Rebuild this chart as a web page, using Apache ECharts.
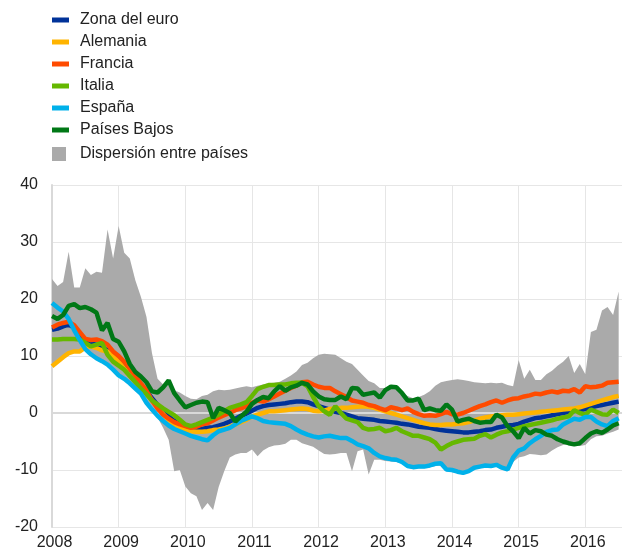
<!DOCTYPE html>
<html>
<head>
<meta charset="utf-8">
<script src="https://cdn.jsdelivr.net/npm/echarts@6/dist/echarts.min.js"></script>
<style>
    html, body {margin: 0; padding: 0; background: #fff;}
    #chart {width: 622px; height: 555px;}
</style>
</head>
<body>
<div id="chart"></div>
<script>
// monthly data, Jan 2008 - Jul 2016
const years = ['2008', '2009', '2010', '2011', '2012', '2013', '2014', '2015', '2016'];

const zonaEuro = [14.6, 14.8, 15.2, 15.5, 15.0, 13.8, 12.8, 12.2, 12.0, 11.5, 11.0, 10.0,
    9.0, 8.0, 7.2, 6.2, 5.0, 3.8, 2.6, 1.4, 0.3, -0.6, -1.4, -2.0,
    -2.4, -2.6, -2.8, -2.8, -2.6, -2.5, -2.2, -1.9, -1.5, -1.0, -0.5, -0.1,
    0.4, 0.9, 1.2, 1.4, 1.5, 1.6, 1.7, 1.9, 2.0, 2.0, 1.9, 1.5,
    1.2, 0.9, 0.6, 0.2, 0.0, -0.3, -0.6, -0.9, -1.0, -1.1, -1.2, -1.4,
    -1.5, -1.6, -1.7, -1.9, -2.0, -2.2, -2.4, -2.5, -2.6, -2.8, -3.0, -3.1,
    -3.2, -3.3, -3.4, -3.4, -3.3, -3.2, -3.0, -2.9, -2.6, -2.4, -2.2, -2.1,
    -1.9, -1.5, -1.2, -0.9, -0.8, -0.6, -0.4, -0.2, 0.0, 0.2, 0.3, 0.5,
    0.7, 1.0, 1.2, 1.4, 1.6, 1.8, 2.0];

const alemania = [8.2, 9.0, 9.8, 10.5, 10.8, 10.8, 11.5, 11.7, 11.4, 11.0, 10.8, 10.0,
    9.0, 7.8, 6.6, 5.6, 4.6, 3.4, 2.2, 1.0, -0.2, -1.2, -2.0, -2.6,
    -3.0, -3.2, -3.3, -3.3, -3.2, -3.0, -2.9, -2.7, -2.4, -2.0, -1.6, -1.2,
    -0.6, -0.3, 0.0, 0.3, 0.3, 0.4, 0.5, 0.6, 0.7, 0.8, 0.7, 0.4,
    0.3, 0.4, 0.7, 0.8, 0.9, 0.9, 1.0, 1.1, 1.2, 1.1, 0.9, 0.6,
    0.3, 0.0, -0.3, -0.6, -0.9, -1.2, -1.5, -1.8, -2.0, -2.1, -2.1, -2.0,
    -2.0, -1.9, -1.8, -1.6, -1.3, -1.0, -0.8, -0.6, -0.5, -0.4, -0.3, -0.3,
    -0.2, -0.1, 0.0, 0.1, 0.2, 0.3, 0.4, 0.5, 0.6, 0.7, 0.8, 1.0,
    1.3, 1.6, 1.9, 2.2, 2.5, 2.8, 3.0];

const francia = [15.0, 15.5, 15.8, 16.0, 15.4, 14.2, 13.0, 12.8, 12.9, 12.6, 12.0, 10.8,
    10.0, 9.0, 7.8, 6.5, 5.2, 4.0, 2.2, 0.8, -0.3, -1.0, -1.6, -2.0,
    -2.3, -2.6, -2.4, -2.0, -1.8, -1.3, -0.8, -0.4, 0.0, 0.5, 0.8, 1.2,
    1.8, 2.2, 2.0, 2.4, 2.9, 3.4, 3.9, 4.4, 4.8, 5.4, 5.5, 5.0,
    4.6, 4.4, 4.4, 3.8, 3.3, 2.8, 2.2, 2.0, 1.8, 1.4, 1.2, 0.8,
    0.5, 1.0, 0.8, 0.5, 0.8, 0.2, -0.2, -0.5, -0.4, -0.5, -0.2, 0.2,
    -0.2, -0.3, 0.0, 0.4, 0.8, 1.2, 1.5, 1.9, 2.2, 1.8, 2.2, 2.5,
    2.6, 2.9, 3.1, 3.4, 3.3, 3.6, 3.8, 3.6, 3.9, 3.8, 4.2, 3.6,
    4.7, 4.5, 4.6, 4.8, 5.3, 5.4, 5.5];

const italia = [12.9, 12.9, 13.0, 13.0, 13.0, 12.9, 12.3, 11.7, 12.0, 12.3, 10.2, 9.0,
    8.3, 7.6, 6.5, 5.4, 4.3, 3.3, 2.2, 1.5, 0.8, 0.2, -0.4, -1.2,
    -2.0, -2.3, -2.0, -1.6, -1.2, -0.8, -0.3, 0.3, 0.9, 1.2, 1.5, 1.9,
    3.0, 4.2, 4.6, 4.9, 4.9, 5.0, 5.0, 5.2, 5.3, 5.3, 4.7, 2.8,
    1.2, 0.3, -0.3, 1.2, 0.0, -1.0, -1.3, -1.6, -2.6, -2.9, -2.8, -2.6,
    -3.2, -3.0, -2.6, -3.2, -3.6, -4.0, -4.0, -4.3, -4.6, -5.2, -6.4, -5.8,
    -5.3, -5.0, -4.7, -4.6, -4.5, -4.0, -3.7, -4.3, -3.8, -3.4, -3.2, -2.9,
    -2.6, -2.3, -2.1, -1.9, -1.7, -1.5, -1.3, -1.0, -0.8, -0.6, 0.5, 0.0,
    -0.3, 0.6, 0.2, -0.2, -0.3, 0.6, 0.0];

const espana = [19.3, 18.5, 17.8, 16.5, 14.5, 12.8, 11.2, 10.3, 9.6, 9.1, 8.5, 7.6,
    6.6, 6.0, 5.2, 4.3, 3.4, 1.8, 0.6, -0.5, -1.4, -2.2, -2.8, -3.2,
    -3.6, -4.0, -4.3, -4.6, -4.8, -3.9, -3.2, -2.9, -2.6, -2.0, -1.4, -1.0,
    -0.6, -0.9, -1.4, -1.6, -1.7, -1.8, -1.9, -2.3, -2.9, -3.4, -3.8, -4.1,
    -4.3, -4.1, -4.0, -4.2, -4.4, -4.4, -4.9, -5.5, -5.8, -6.2, -7.0, -7.6,
    -7.9, -8.1, -8.2, -8.6, -9.3, -9.5, -9.4, -9.4, -9.2, -8.9, -8.8, -9.9,
    -10.0, -10.3, -10.5, -10.2, -9.6, -9.4, -9.2, -9.3, -9.1, -9.6, -9.9, -7.8,
    -6.6, -6.2, -5.3, -4.6, -4.0, -3.3, -3.0, -2.9, -2.0, -1.5, -1.0, -1.2,
    -0.7, -0.7, -1.5, -2.0, -2.3, -1.4, -0.9];

const paisesBajos = [17.0, 16.5, 17.2, 18.8, 19.1, 18.4, 18.6, 18.2, 17.6, 14.5, 15.8, 13.0,
    12.5, 10.8, 8.6, 7.2, 6.4, 5.4, 3.8, 3.6, 4.5, 5.7, 3.5, 2.2,
    1.0, 1.4, 1.8, 2.0, 1.9, -0.9, 0.9, 0.5, 0.0, -1.5, -0.6, 0.2,
    1.6, 2.3, 2.8, 2.6, 3.8, 4.7, 3.9, 4.5, 4.8, 5.3, 5.0, 3.8,
    2.9, 2.4, 2.3, 2.3, 2.9, 2.4, 4.4, 4.3, 3.2, 3.4, 3.6, 2.7,
    4.0, 4.6, 4.5, 3.5, 2.2, 2.2, 2.5, 0.5, 0.8, 0.5, 0.4, 1.5,
    0.6, -1.5, -1.2, -1.0, -1.4, -1.7, -1.6, -1.6, -0.3, -0.8, -2.3, -3.2,
    -4.4, -2.6, -3.6, -3.0, -3.2, -3.8, -4.0, -4.6, -5.0, -5.3, -5.5, -5.3,
    -4.4, -3.6, -3.2, -3.5, -2.9, -2.2, -1.8];

// dispersion band: highest and lowest country
const dispersionMax = [23.5, 22.3, 23.0, 28.3, 22.0, 22.0, 25.4, 24.2, 24.8, 24.6, 32.2, 27.1,
    32.8, 28.1, 27.1, 23.3, 20.4, 16.9, 10.5, 6.0, 5.0, 5.8, 4.0, 3.6,
    3.0, 2.5, 2.4, 3.0, 3.2, 3.8, 4.1, 4.0, 4.1, 4.3, 4.5, 4.7,
    4.5, 4.8, 5.0, 5.2, 5.3, 5.5, 6.0, 6.6, 7.3, 8.4, 8.8, 9.6,
    10.2, 10.4, 10.3, 10.2, 9.6, 9.0, 8.6, 7.6, 6.6, 5.6, 5.2, 4.4,
    4.4, 4.6, 4.6, 3.6, 3.0, 2.6, 2.8, 3.2, 3.8, 4.8, 5.4, 5.6,
    5.8, 5.9, 5.8, 5.6, 5.4, 5.3, 5.2, 5.3, 5.2, 5.3, 4.9, 4.7,
    9.3, 6.0, 7.6, 5.8, 5.8, 6.8, 7.4, 8.3, 9.0, 10.0, 7.0, 8.6,
    6.8, 14.2, 14.6, 18.0, 18.6, 17.2, 21.3];

const dispersionMin = [8.2, 9.0, 9.8, 10.5, 10.8, 10.8, 11.2, 10.3, 9.6, 9.1, 8.5, 7.6,
    6.6, 6.0, 5.2, 4.3, 3.4, 1.8, 0.6, -0.8, -2.6, -4.7, -10.2, -10.0,
    -12.9, -14.1, -14.6, -17.0, -15.8, -17.0, -13.0, -10.2, -7.8, -7.3, -7.0, -7.0,
    -6.4, -7.6, -6.6, -6.0, -5.7, -5.6, -5.4, -4.7, -4.7, -5.3, -5.6, -5.9,
    -6.6, -7.2, -7.3, -7.2, -7.0, -7.0, -10.2, -6.7, -6.4, -10.8, -8.2, -8.2,
    -8.4, -8.5, -8.6, -8.9, -9.6, -9.8, -9.7, -9.7, -9.5, -9.3, -9.2, -10.2,
    -10.3, -10.6, -10.8, -10.5, -9.9, -9.7, -9.5, -9.6, -9.4, -9.9, -10.2, -8.6,
    -7.8, -7.6, -7.2, -7.3, -7.4, -7.3, -6.6, -6.0, -5.6, -5.4, -5.7, -5.8,
    -5.6, -4.6, -4.1, -4.0, -3.6, -3.3, -2.9];

const yTicks = [-20, 40, 10]; // min, max, step

const fontFamily = '"Liberation Sans", Arial, sans-serif';
const bandColor = '#AAAAAA';

const lines = [
    {name: 'Zona del euro', data: zonaEuro, color: '#003299'},
    {name: 'Alemania', data: alemania, color: '#FFB400'},
    {name: 'Francia', data: francia, color: '#FF4B00'},
    {name: 'Italia', data: italia, color: '#65B800'},
    {name: 'España', data: espana, color: '#00B1EA'},
    {name: 'Países Bajos', data: paisesBajos, color: '#007816'}
];

const toPairs = (arr) => arr.map((v, i) => [i, v]);

// band drawn as one polygon (max left to right, then min back),
// plus the zero line that sits over the band
const renderBand = (params, api) => {
    if (params.dataIndex !== 0) {
        return null;
    }
    let points = [];
    for (let i = 0; i < dispersionMax.length; i++) {
        points.push(api.coord([i, dispersionMax[i]]));
    }
    for (let i = dispersionMin.length - 1; i >= 0; i--) {
        points.push(api.coord([i, dispersionMin[i]]));
    }
    const box = params.coordSys;
    const zeroY = Math.round(api.coord([0, 0])[1]);
    return {
        type: 'group',
        children: [
            {
                type: 'polygon',
                shape: {points: points},
                style: {fill: bandColor}
            },
            {
                type: 'line',
                shape: {x1: box.x, y1: zeroY, x2: box.x + box.width, y2: zeroY},
                style: {stroke: '#D9D9D9', lineWidth: 2}
            }
        ]
    };
};

let series = [
    {
        name: 'Dispersión entre países',
        type: 'custom',
        renderItem: renderBand,
        data: dispersionMin.map((v, i) => [i, v, dispersionMax[i]]),
        encode: {x: 0, y: [1, 2]},
        itemStyle: {color: bandColor},
        silent: true,
        z: 1
    }
];

lines.forEach((s) => {
    series.push({
        name: s.name,
        type: 'line',
        data: toPairs(s.data),
        symbol: 'none',
        color: s.color,
        lineStyle: {width: 4.5, color: s.color},
        z: 3
    });
});

const option = {
    animation: false,
    textStyle: {fontFamily: fontFamily},
    grid: {left: 52, right: 0, top: 185, bottom: 28},
    legend: [
        {
            data: lines.map((s) => s.name),
            orient: 'vertical',
            left: 52,
            top: 12,
            padding: 0,
            itemGap: 6,
            itemWidth: 17,
            itemHeight: 5,
            icon: 'rect',
            selectedMode: false,
            textStyle: {fontSize: 16, color: '#222', lineHeight: 16, padding: [0, 0, 0, 6], fontFamily: fontFamily}
        },
        {
            data: ['Dispersión entre países'],
            orient: 'vertical',
            left: 52,
            top: 146,
            padding: 0,
            itemWidth: 14,
            itemHeight: 14,
            icon: 'rect',
            selectedMode: false,
            textStyle: {fontSize: 16, color: '#222', lineHeight: 16, padding: [0, 0, 0, 9], fontFamily: fontFamily}
        }
    ],
    xAxis: {
        type: 'value',
        min: 0,
        max: 102.6,
        interval: 12,
        axisLine: {show: true, lineStyle: {color: '#DADADA', width: 1.5}},
        axisTick: {show: false},
        axisLabel: {
            fontSize: 16,
            color: '#222',
            margin: 8,
            padding: [0, 0, 0, 5],
            showMaxLabel: false,
            formatter: (v) => (v % 12 === 0 ? years[v / 12] : '')
        },
        splitLine: {show: true, lineStyle: {color: '#E6E6E6', width: 1}}
    },
    yAxis: {
        type: 'value',
        min: yTicks[0],
        max: yTicks[1],
        interval: yTicks[2],
        axisLine: {show: true, lineStyle: {color: '#D9D9D9', width: 2}},
        axisTick: {show: false},
        axisLabel: {fontSize: 16, color: '#222', margin: 14},
        splitLine: {show: true, lineStyle: {color: '#E6E6E6', width: 1}}
    },
    series: series
};

let chart = echarts.init(document.getElementById('chart'));
chart.setOption(option);
</script>
</body>
</html>
